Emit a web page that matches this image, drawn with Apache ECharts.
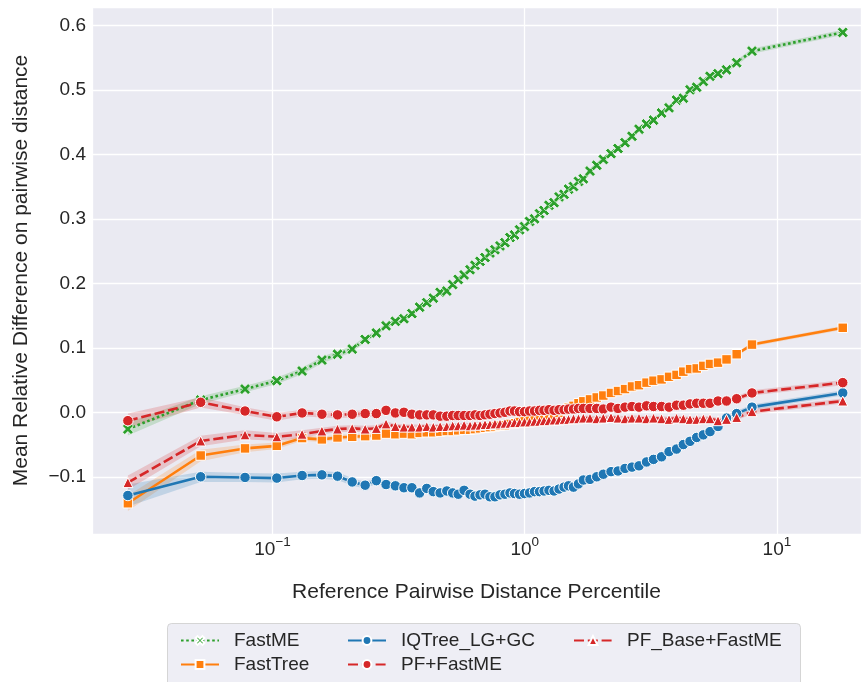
<!DOCTYPE html>
<html>
<head>
<meta charset="utf-8">
<script src="https://cdn.jsdelivr.net/npm/echarts@6.0.0/dist/echarts.min.js"></script>
<style>
  html, body { margin: 0; padding: 0; background: #ffffff; }
  #chart { width: 866px; height: 682px; }
</style>
</head>
<body>
<div id="chart"></div>
<script>
// Reference pairwise distance at each percentile bin (x positions, log scale)
const distancePercentile = [
  0.0267, 0.0519, 0.0778, 0.104, 0.131, 0.157, 0.181, 0.207, 0.233, 0.258,
  0.282, 0.307, 0.332, 0.357, 0.383, 0.409, 0.434, 0.462, 0.491, 0.518,
  0.545, 0.575, 0.607, 0.635, 0.665, 0.696, 0.728, 0.762, 0.798, 0.835,
  0.874, 0.911, 0.954, 0.998, 1.045, 1.094, 1.145, 1.193, 1.248, 1.307,
  1.368, 1.432, 1.492, 1.561, 1.634, 1.708, 1.815, 1.930, 2.050, 2.199,
  2.344, 2.499, 2.663, 2.839, 3.041, 3.241, 3.488, 3.735, 3.999, 4.256,
  4.524, 4.808, 5.108, 5.429, 5.841, 6.313, 6.926, 7.965, 18.24
];

// Mean relative difference per method
const fastME = [
  -0.026, 0.019, 0.036, 0.049, 0.064, 0.081, 0.090, 0.098, 0.113, 0.123,
  0.134, 0.141, 0.145, 0.153, 0.163, 0.170, 0.177, 0.186, 0.188, 0.198,
  0.206, 0.213, 0.221, 0.228, 0.234, 0.240, 0.247, 0.252, 0.258, 0.263,
  0.271, 0.275, 0.283, 0.288, 0.296, 0.300, 0.308, 0.313, 0.321, 0.325,
  0.334, 0.338, 0.346, 0.350, 0.358, 0.362, 0.374, 0.383, 0.392, 0.401,
  0.409, 0.418, 0.428, 0.439, 0.447, 0.453, 0.464, 0.472, 0.484, 0.487,
  0.500, 0.504, 0.513, 0.521, 0.525, 0.531, 0.542, 0.560, 0.589
];
const fastTree = [
  -0.141, -0.067, -0.056, -0.052, -0.040, -0.042, -0.039, -0.038, -0.037, -0.036,
  -0.033, -0.034, -0.033, -0.034, -0.032, -0.031, -0.031, -0.030, -0.029, -0.029,
  -0.028, -0.027, -0.027, -0.026, -0.025, -0.024, -0.023, -0.022, -0.021, -0.020,
  -0.018, -0.017, -0.015, -0.014, -0.012, -0.010, -0.009, -0.007, -0.005, -0.004,
  -0.001, 0.003, 0.007, 0.010, 0.014, 0.017, 0.020, 0.023, 0.026, 0.030,
  0.033, 0.036, 0.040, 0.042, 0.046, 0.049, 0.051, 0.055, 0.058, 0.063,
  0.067, 0.068, 0.072, 0.075, 0.077, 0.082, 0.090, 0.105, 0.131
];
const iqTreeLGGC = [
  -0.129, -0.100, -0.101, -0.102, -0.098, -0.097, -0.099, -0.108, -0.113, -0.106,
  -0.112, -0.114, -0.117, -0.117, -0.125, -0.118, -0.123, -0.125, -0.122, -0.125,
  -0.127, -0.121, -0.127, -0.130, -0.128, -0.127, -0.131, -0.131, -0.128, -0.127,
  -0.125, -0.126, -0.127, -0.126, -0.125, -0.123, -0.123, -0.122, -0.121, -0.122,
  -0.119, -0.116, -0.114, -0.116, -0.111, -0.105, -0.104, -0.100, -0.096, -0.092,
  -0.091, -0.087, -0.085, -0.083, -0.077, -0.073, -0.069, -0.061, -0.057, -0.050,
  -0.045, -0.039, -0.035, -0.030, -0.022, -0.009, -0.002, 0.008, 0.030
];
const pfFastME = [
  -0.013, 0.0155, 0.002, -0.007, -0.001, -0.003, -0.004, -0.003, -0.002, -0.002,
  0.003, -0.001, 0.000, -0.003, -0.004, -0.004, -0.004, -0.006, -0.006, -0.005,
  -0.005, -0.005, -0.005, -0.004, -0.005, -0.004, -0.003, -0.002, -0.001, 0.000,
  0.002, 0.002, 0.001, 0.001, 0.002, 0.002, 0.003, 0.003, 0.004, 0.003,
  0.004, 0.004, 0.005, 0.005, 0.006, 0.006, 0.006, 0.006, 0.005, 0.008,
  0.006, 0.008, 0.009, 0.008, 0.010, 0.009, 0.009, 0.008, 0.011, 0.011,
  0.013, 0.014, 0.014, 0.014, 0.0175, 0.0175, 0.021, 0.030, 0.046
];
const pfBaseFastME = [
  -0.109, -0.0445, -0.035, -0.038, -0.034, -0.029, -0.026, -0.025, -0.026, -0.025,
  -0.018, -0.022, -0.023, -0.023, -0.023, -0.022, -0.023, -0.022, -0.022, -0.021,
  -0.021, -0.020, -0.021, -0.020, -0.020, -0.019, -0.019, -0.018, -0.018, -0.017,
  -0.017, -0.016, -0.016, -0.015, -0.015, -0.014, -0.014, -0.013, -0.013, -0.012,
  -0.012, -0.011, -0.011, -0.010, -0.010, -0.009, -0.009, -0.010, -0.009, -0.008,
  -0.009, -0.010, -0.009, -0.009, -0.010, -0.009, -0.010, -0.011, -0.009, -0.010,
  -0.011, -0.011, -0.010, -0.010, -0.013, -0.011, -0.008, 0.001, 0.0175
];

// Half-width of the 95% confidence band around each mean
const fastMECi = [
  0.010, 0.006, 0.005, 0.005, 0.005, 0.005, 0.005, 0.005, 0.004, 0.004,
  0.004, 0.004, 0.004, 0.004, 0.004, 0.004, 0.004, 0.004, 0.004, 0.004,
  0.004, 0.004, 0.004, 0.004, 0.004, 0.004, 0.004, 0.004, 0.004, 0.004,
  0.004, 0.004, 0.004, 0.004, 0.004, 0.004, 0.004, 0.004, 0.004, 0.004,
  0.004, 0.004, 0.004, 0.004, 0.004, 0.004, 0.004, 0.004, 0.004, 0.004,
  0.004, 0.004, 0.004, 0.004, 0.004, 0.004, 0.004, 0.004, 0.004, 0.004,
  0.004, 0.004, 0.004, 0.004, 0.004, 0.004, 0.004, 0.004, 0.004
];
const fastTreeCi = [
  0.012, 0.009, 0.006, 0.005, 0.004, 0.004, 0.004, 0.004, 0.004, 0.004,
  0.003, 0.003, 0.003, 0.003, 0.003, 0.003, 0.003, 0.003, 0.003, 0.003,
  0.003, 0.003, 0.003, 0.003, 0.003, 0.003, 0.003, 0.003, 0.003, 0.003,
  0.003, 0.003, 0.003, 0.003, 0.003, 0.003, 0.003, 0.003, 0.003, 0.003,
  0.003, 0.003, 0.003, 0.003, 0.003, 0.003, 0.003, 0.003, 0.003, 0.003,
  0.003, 0.003, 0.003, 0.003, 0.003, 0.003, 0.003, 0.003, 0.003, 0.003,
  0.003, 0.003, 0.003, 0.003, 0.003, 0.003, 0.003, 0.003, 0.003
];
const iqTreeLGGCCi = [
  0.017, 0.008, 0.007, 0.007, 0.006, 0.006, 0.006, 0.006, 0.005, 0.005,
  0.005, 0.005, 0.005, 0.005, 0.005, 0.004, 0.004, 0.004, 0.004, 0.004,
  0.004, 0.004, 0.004, 0.004, 0.004, 0.004, 0.004, 0.004, 0.004, 0.004,
  0.004, 0.004, 0.004, 0.004, 0.004, 0.004, 0.004, 0.004, 0.004, 0.004,
  0.004, 0.004, 0.004, 0.004, 0.004, 0.004, 0.004, 0.004, 0.004, 0.004,
  0.004, 0.004, 0.004, 0.004, 0.004, 0.004, 0.004, 0.004, 0.004, 0.004,
  0.004, 0.004, 0.004, 0.004, 0.004, 0.004, 0.004, 0.004, 0.004
];
const pfFastMECi = [
  0.011, 0.008, 0.006, 0.006, 0.005, 0.005, 0.005, 0.005, 0.005, 0.005,
  0.004, 0.004, 0.004, 0.004, 0.004, 0.004, 0.004, 0.004, 0.004, 0.004,
  0.004, 0.004, 0.004, 0.004, 0.004, 0.004, 0.004, 0.004, 0.004, 0.004,
  0.004, 0.004, 0.004, 0.004, 0.004, 0.004, 0.004, 0.004, 0.004, 0.004,
  0.004, 0.004, 0.004, 0.004, 0.004, 0.004, 0.004, 0.004, 0.004, 0.004,
  0.004, 0.004, 0.004, 0.004, 0.004, 0.004, 0.004, 0.004, 0.004, 0.004,
  0.004, 0.004, 0.004, 0.004, 0.004, 0.004, 0.004, 0.004, 0.004
];
const pfBaseFastMECi = [
  0.011, 0.008, 0.007, 0.006, 0.006, 0.005, 0.005, 0.005, 0.005, 0.005,
  0.004, 0.004, 0.004, 0.004, 0.004, 0.004, 0.004, 0.004, 0.004, 0.004,
  0.004, 0.004, 0.004, 0.004, 0.004, 0.004, 0.004, 0.004, 0.004, 0.004,
  0.004, 0.004, 0.004, 0.004, 0.004, 0.004, 0.004, 0.004, 0.004, 0.004,
  0.004, 0.004, 0.004, 0.004, 0.004, 0.004, 0.004, 0.004, 0.004, 0.004,
  0.004, 0.004, 0.004, 0.004, 0.004, 0.004, 0.004, 0.004, 0.004, 0.004,
  0.004, 0.004, 0.004, 0.004, 0.004, 0.004, 0.004, 0.004, 0.004
];

const FONT = '"Liberation Sans", Arial, Helvetica, sans-serif';
const TEXT_COLOR = '#262626';
const MINUS = '\u2212';

// Filled "X" marker
const X_MARKER = 'path://M2.2,0 L5,2.8 L7.8,0 L10,2.2 L7.2,5 L10,7.8 L7.8,10 L5,7.2 L2.2,10 L0,7.8 L2.8,5 L0,2.2 Z';

const methods = [
  { name: 'FastME', values: fastME, ci: fastMECi, color: '#2ca02c', rgb: '44,160,44', dash: [2.6, 2.6], symbol: X_MARKER, size: 11, border: 0.8 },
  { name: 'FastTree', values: fastTree, ci: fastTreeCi, color: '#ff7f0e', rgb: '255,127,14', dash: 'solid', symbol: 'rect', size: 9.5, border: 1 },
  { name: 'IQTree_LG+GC', values: iqTreeLGGC, ci: iqTreeLGGCCi, color: '#1f77b4', rgb: '31,119,180', dash: 'solid', symbol: 'circle', size: 10.5, border: 1 },
  { name: 'PF+FastME', values: pfFastME, ci: pfFastMECi, color: '#d62728', rgb: '214,39,40', dash: [10, 3.8], symbol: 'circle', size: 10.5, border: 1 },
  { name: 'PF_Base+FastME', values: pfBaseFastME, ci: pfBaseFastMECi, color: '#d62728', rgb: '214,39,40', dash: [10, 3.8], symbol: 'triangle', size: 10, border: 1 }
];

const series = [];

// Confidence bands first, so every line sits above them.
// Each band is one polygon: upper edge left-to-right, lower edge back.
methods.forEach(function (m) {
  series.push({
    type: 'custom', silent: true, z: 1, clip: true,
    data: distancePercentile.map(function (x, i) { return [x, m.values[i] - m.ci[i], m.values[i] + m.ci[i]]; }),
    encode: { x: 0, y: [1, 2] },
    renderItem: function (params, api) {
      if (params.dataIndex !== 0) return null;
      const pts = [];
      for (let i = 0; i < distancePercentile.length; i++) {
        pts.push(api.coord([distancePercentile[i], m.values[i] + m.ci[i]]));
      }
      for (let i = distancePercentile.length - 1; i >= 0; i--) {
        pts.push(api.coord([distancePercentile[i], m.values[i] - m.ci[i]]));
      }
      return {
        type: 'polygon',
        shape: { points: pts },
        style: { fill: 'rgba(' + m.rgb + ',0.2)', stroke: null }
      };
    }
  });
});

methods.forEach(function (m) {
  series.push({
    name: m.name, type: 'line', z: 3,
    symbol: m.symbol, symbolSize: m.size, symbolKeepAspect: true,
    lineStyle: { color: m.color, width: 2.6, type: m.dash },
    itemStyle: { color: m.color, borderColor: '#ffffff', borderWidth: m.border },
    emphasis: { disabled: true },
    data: distancePercentile.map(function (x, i) { return [x, m.values[i]]; })
  });
});

const legendBase = {
  orient: 'vertical', selectedMode: false, padding: 0,
  itemWidth: 38, itemHeight: 11, itemGap: 5,
  textStyle: { fontFamily: FONT, fontSize: 19, color: TEXT_COLOR, lineHeight: 19, padding: [0, 0, 0, 10] }
};

const chart = echarts.init(document.getElementById('chart'), null, { renderer: 'canvas' });
chart.setOption({
  animation: false,
  backgroundColor: '#ffffff',
  grid: {
    left: 92, right: 5, top: 7, bottom: 148,
    show: true, backgroundColor: '#eaeaf2', borderWidth: 0
  },
  xAxis: {
    type: 'log', logBase: 10, min: 0.01924, max: 21.55,
    name: 'Reference Pairwise Distance Percentile',
    nameLocation: 'middle', nameGap: 48,
    nameTextStyle: { fontFamily: FONT, fontSize: 21, color: TEXT_COLOR },
    axisLine: { show: false }, axisTick: { show: false },
    splitLine: { show: true, lineStyle: { color: '#ffffff', width: 1.3 } },
    axisLabel: {
      showMinLabel: false, showMaxLabel: false, margin: 1,
      formatter: function (v) {
        const e = Math.round(Math.log10(v));
        return '{b|10}{e|' + (e < 0 ? MINUS : '') + Math.abs(e) + '}';
      },
      rich: {
        b: { fontFamily: FONT, fontSize: 19, color: TEXT_COLOR, lineHeight: 24, verticalAlign: 'bottom' },
        e: { fontFamily: FONT, fontSize: 13.5, color: TEXT_COLOR, lineHeight: 15, verticalAlign: 'top' }
      }
    }
  },
  yAxis: {
    type: 'value', min: -0.1887, max: 0.6284, splitNumber: 8,
    name: 'Mean Relative Difference on pairwise distance',
    nameLocation: 'middle', nameGap: 60,
    nameTextStyle: { fontFamily: FONT, fontSize: 21, color: TEXT_COLOR },
    axisLine: { show: false }, axisTick: { show: false },
    splitLine: { show: true, lineStyle: { color: '#ffffff', width: 1.3 } },
    axisLabel: {
      showMinLabel: false, showMaxLabel: false, margin: 6,
      fontFamily: FONT, fontSize: 19, color: TEXT_COLOR,
      formatter: function (v) { return (v < -1e-9 ? MINUS : '') + Math.abs(v).toFixed(1); }
    }
  },
  graphic: [{
    type: 'rect', z: 0,
    shape: { x: 167.5, y: 623.5, width: 633, height: 70, r: 4 },
    style: { fill: 'rgba(234,234,242,0.8)', stroke: 'rgba(204,204,204,0.8)', lineWidth: 1 }
  }],
  legend: [
    Object.assign({}, legendBase, { left: 180, top: 631, data: ['FastME', 'FastTree'] }),
    Object.assign({}, legendBase, { left: 347, top: 631, data: ['IQTree_LG+GC', 'PF+FastME'] }),
    Object.assign({}, legendBase, { left: 573, top: 631, data: ['PF_Base+FastME'] })
  ],
  series: series
});
</script>
</body>
</html>
